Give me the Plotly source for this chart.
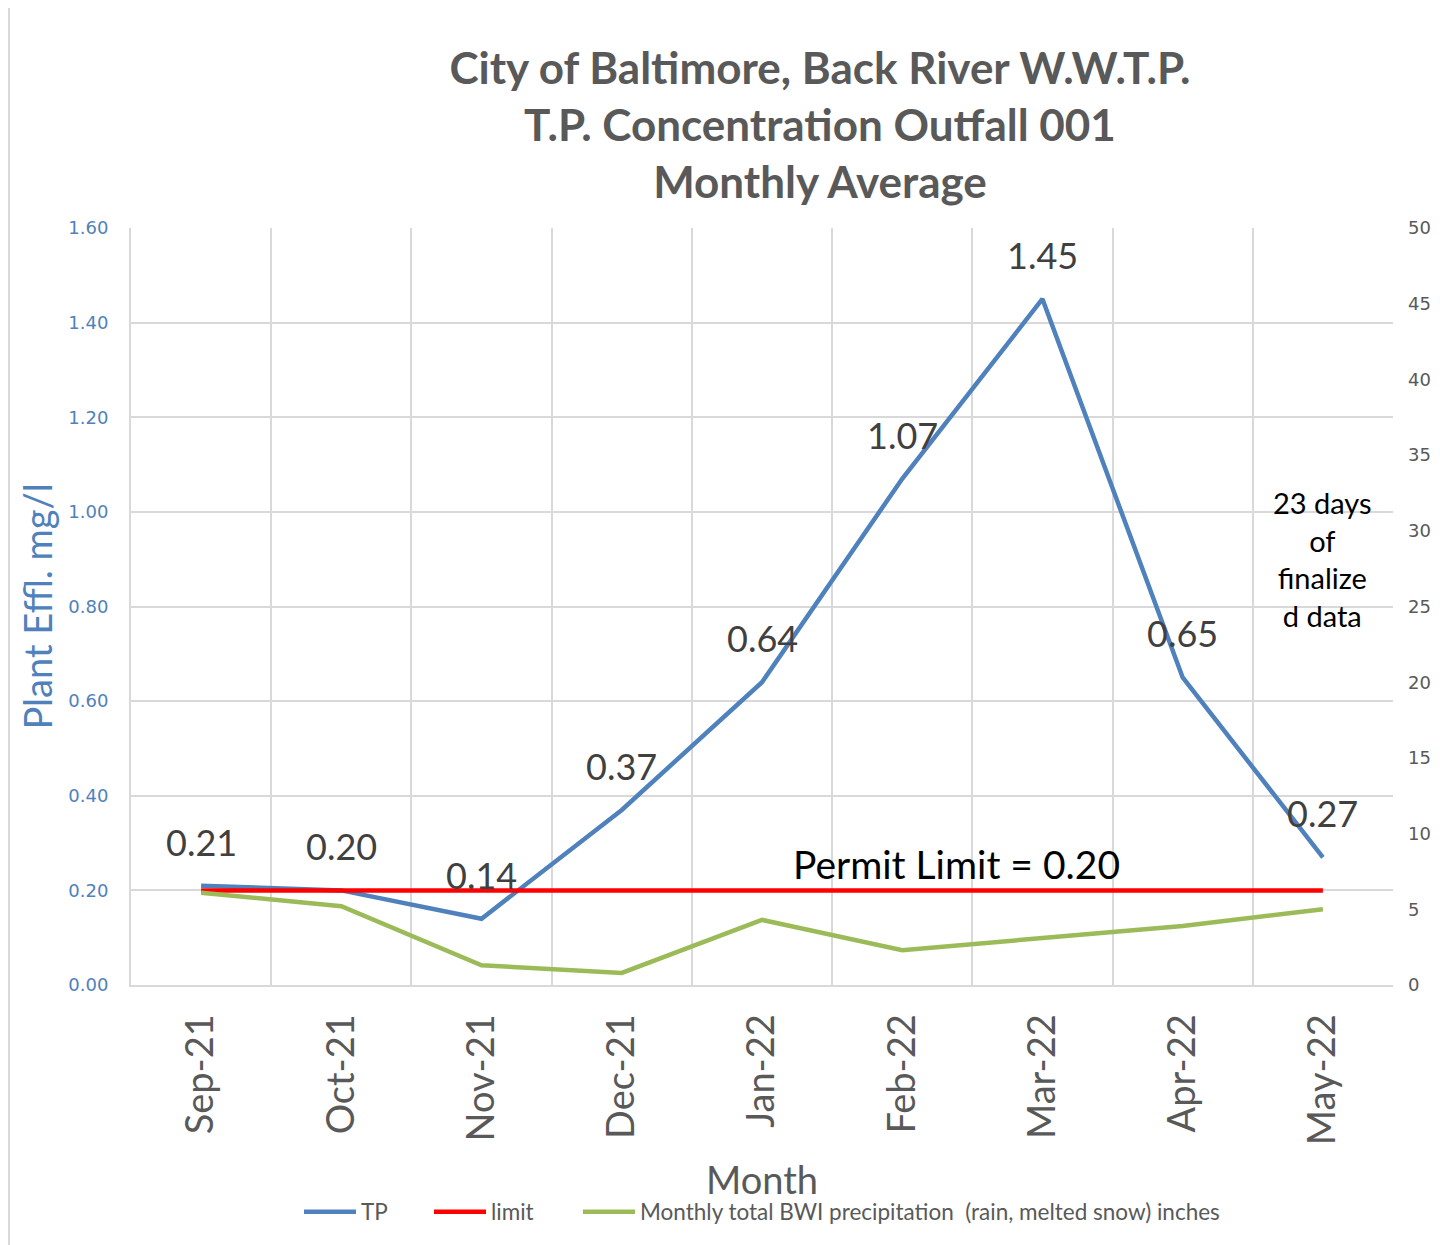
import plotly.graph_objects as go

months = ["Sep-21", "Oct-21", "Nov-21", "Dec-21", "Jan-22", "Feb-22", "Mar-22", "Apr-22", "May-22"]
tp = [0.21, 0.20, 0.14, 0.37, 0.64, 1.07, 1.45, 0.65, 0.27]
limit = [0.20] * 9
precip = [6.1, 5.2, 1.3, 0.8, 4.3, 2.3, 3.1, 3.9, 5.0]
tp_labels = ["0.21", "0.20", "0.14", "0.37", "0.64", "1.07", "1.45", "0.65", "0.27"]

FONT = "Lato"
GREY = "#595959"
BLUE = "#4F81BD"
GRID = "#D9D9D9"

W, H = 1432, 1237          # page body has an 8px margin
L, R, T, B = 123, 47, 220, 260
PW, PH = W - L - R, H - T - B


def px(xpage):
    return (xpage - 8 - L) / PW


def py(ypage):
    return (977 - (ypage - 8)) / PH


fig = go.Figure()
fig.add_trace(go.Scatter(x=months, y=tp, name="TP", mode="lines", legend="legend",
                         line=dict(color=BLUE, width=4.5)))
fig.add_trace(go.Scatter(x=months, y=limit, name="limit", mode="lines", legend="legend2",
                         line=dict(color="#FF0000", width=4.5)))
fig.add_trace(go.Scatter(x=months, y=precip, name="Monthly total BWI precipitation  (rain, melted snow) inches",
                         mode="lines", yaxis="y2", legend="legend3",
                         line=dict(color="#9BBB59", width=4.5)))

annotations = []
for m, v, t in zip(months, tp, tp_labels):
    annotations.append(dict(x=m, y=v, text=t, showarrow=False, yshift=44,
                            font=dict(family=FONT, size=36, color="#404040")))
annotations.append(dict(xref="paper", x=px(956), y=0.20, text="Permit Limit = 0.20", showarrow=False,
                        yshift=26, font=dict(family=FONT, size=39, color="#000000")))
annotations.append(dict(x="May-22", y=0.90, text="23 days<br>of<br>finalize<br>d data", showarrow=False,
                        font=dict(family=FONT, size=29, color="#000000")))

legend_common = dict(orientation="h", xanchor="left", yanchor="middle", y=py(1212),
                     font=dict(family=FONT, size=22.5, color=GREY), itemwidth=52,
                     bgcolor="rgba(0,0,0,0)")

fig.update_layout(
    width=W, height=H,
    margin=dict(l=L, r=R, t=T, b=B),
    paper_bgcolor="white", plot_bgcolor="white",
    title=dict(text="City of Baltimore, Back River W.W.T.P.<br>T.P. Concentration Outfall 001<br>Monthly Average",
               x=812 / W, xanchor="center", y=1 - 76 / H, yanchor="middle",
               font=dict(family=FONT, size=44, color=GREY, weight="bold")),
    xaxis=dict(type="category", range=[-0.5, 8.5], tickson="boundaries",
               showgrid=True, gridcolor=GRID, gridwidth=2,
               showline=True, linecolor=GRID, linewidth=2,
               ticks="", tickangle=-90, ticklabelstandoff=12,
               tickfont=dict(family=FONT, size=38, color=GREY),
               title=dict(text="Month", font=dict(family=FONT, size=38, color=GREY), standoff=23)),
    yaxis=dict(range=[0, 1.6], dtick=0.2, tickformat=".2f",
               showgrid=True, gridcolor=GRID, gridwidth=2,
               showline=True, linecolor=GRID, linewidth=2, zeroline=False,
               ticks="", ticklabelstandoff=17,
               tickfont=dict(family="DejaVu Sans", size=18, color=BLUE),
               title=dict(text="Plant Effl. mg/l", font=dict(family=FONT, size=38, color=BLUE), standoff=4)),
    yaxis2=dict(range=[0, 50], dtick=5, overlaying="y", side="right", automargin=False,
                showgrid=False, zeroline=False, showline=False, ticks="", ticklabelstandoff=14,
                tickfont=dict(family="DejaVu Sans", size=18, color=GREY)),
    legend=dict(x=px(299), **legend_common),
    legend2=dict(x=px(429), **legend_common),
    legend3=dict(x=px(578), **legend_common),
    showlegend=True,
    annotations=annotations,
    shapes=[dict(type="rect", xref="paper", yref="paper",
                 x0=(1 - L) / PW, x1=(1460 - L) / PW,
                 y0=(977 - 1260) / PH, y1=(977 + 2) / PH,
                 line=dict(color=GRID, width=2), layer="below")],
)

fig.write_html("out.html")
